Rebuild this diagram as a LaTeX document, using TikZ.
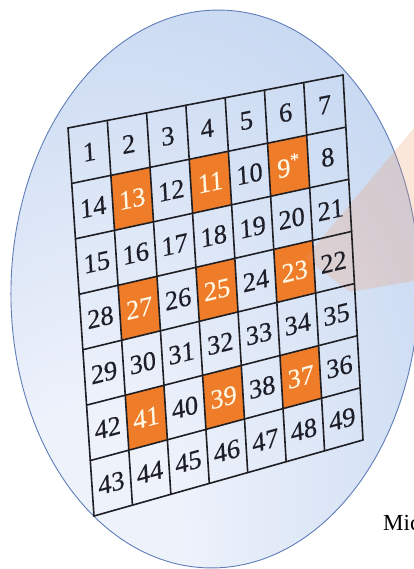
\documentclass[tikz,border=0pt]{standalone}
\usepackage{fontspec}
\setmainfont{Liberation Serif}
\newfontfamily\numfont[FakeBold=0.35]{Liberation Serif}
\usetikzlibrary{calc}
\definecolor{wblue}{RGB}{197,215,241}
\definecolor{wlight}{RGB}{238,242,251}
\definecolor{waferedge}{RGB}{95,125,185}
\definecolor{dieorange}{RGB}{238,124,40}
\definecolor{gridcol}{RGB}{30,30,35}
\definecolor{numcol}{RGB}{30,30,40}
\definecolor{hotnumcol}{RGB}{255,246,228}
\definecolor{beamcol}{RGB}{240,150,100}
\pgfdeclareradialshading{wafershade}{\pgfpoint{-18bp}{-26bp}}{color(0bp)=(wlight); color(12bp)=(wlight); color(46bp)=(wblue); color(100bp)=(wblue)}
\begin{document}
\begin{tikzpicture}[x=1pt,y=1pt,
  wafer/.style={shade, shading=wafershade, draw=waferedge, line width=0.9pt},
  gridln/.style={draw=gridcol, line width=1.6pt, line cap=round},
  hotcell/.style={fill=dieorange},
  num/.style={font=\numfont\fontsize{27}{27}\selectfont, text=numcol, inner sep=0pt},
  hotnum/.style={num, text=hotnumcol},
  beam/.style={fill=beamcol, fill opacity=0.24},
  caption/.style={font=\fontsize{23}{23}\selectfont, anchor=base west, inner sep=0pt, text=black}
]
\useasboundingbox (0,0) rectangle (414,-569);
\begin{scope}
\clip (0,0) rectangle (414,-569);
\path[wafer, rotate around={-1.5:(215,-289)}] (215,-289) ellipse [x radius=204pt, y radius=279pt];

% grid corners
\coordinate (TL) at (68,-128);
\coordinate (TR) at (343,-75);
\coordinate (BL) at (94,-516);
\coordinate (BR) at (363,-440);
\foreach \i in {0,...,7}{
  \foreach \j in {0,...,7}{
    \coordinate (g-\i-\j) at ($ ($(TL)!\i/7!(TR)$)!\j/7!($(BL)!\i/7!(BR)$) $);
  }
}
% orange dies
\foreach \c/\r in {1/1,3/1,5/1,1/3,3/3,5/3,1/5,3/5,5/5}{
  \pgfmathtruncatemacro\cc{\c+1}
  \pgfmathtruncatemacro\rr{\r+1}
  \fill[hotcell] (g-\c-\r) -- (g-\cc-\r) -- (g-\cc-\rr) -- (g-\c-\rr) -- cycle;
}
% beam
\coordinate (beamtip) at (305,-258);
\coordinate (beamtop) at (414,-128);
\coordinate (beambot) at (414,-281);
\coordinate (beamlow) at (350,-292);
\fill[beam] (beamtip) -- (beamtop) -- (beambot) -- (beamlow) -- cycle;
% grid lines
\foreach \i in {0,...,7}{\draw[gridln] (g-\i-0) -- (g-\i-7);}
\foreach \j in {0,...,7}{\draw[gridln] (g-0-\j) -- (g-7-\j);}
% numbers
\foreach \r/\labs in {0/{1,2,3,4,5,6,7},1/{14,13,12,11,10,{9\textsuperscript{*}},8},2/{15,16,17,18,19,20,21},3/{28,27,26,25,24,23,22},4/{29,30,31,32,33,34,35},5/{42,41,40,39,38,37,36},6/{43,44,45,46,47,48,49}}{
  \foreach \lab [count=\ci from 0] in \labs {
    \pgfmathsetmacro\u{(\ci+0.5)/7}
    \pgfmathsetmacro\v{(\r+0.5)/7}
    \pgfmathsetmacro\sl{0.97*(0.193+\v*0.09)}
    \pgfmathtruncatemacro\ishot{(mod(\ci,2)==1)&&(mod(\r,2)==1)}
    \coordinate (cc-\ci-\r) at ($ ($(TL)!\u!(TR)$)!\v!($(BL)!\u!(BR)$) $);
    \ifnum\ishot=1
      \node[hotnum, cm={0.97,\sl,-0.06,1,(0,0)}] (n-\ci-\r) at (cc-\ci-\r) {\lab};
    \else
      \node[num, cm={0.97,\sl,-0.06,1,(0,0)}] (n-\ci-\r) at (cc-\ci-\r) {\lab};
    \fi
  }
}
\node[caption] (mic) at (383,-530) {Mic};
\end{scope}
\end{tikzpicture}
\end{document}
